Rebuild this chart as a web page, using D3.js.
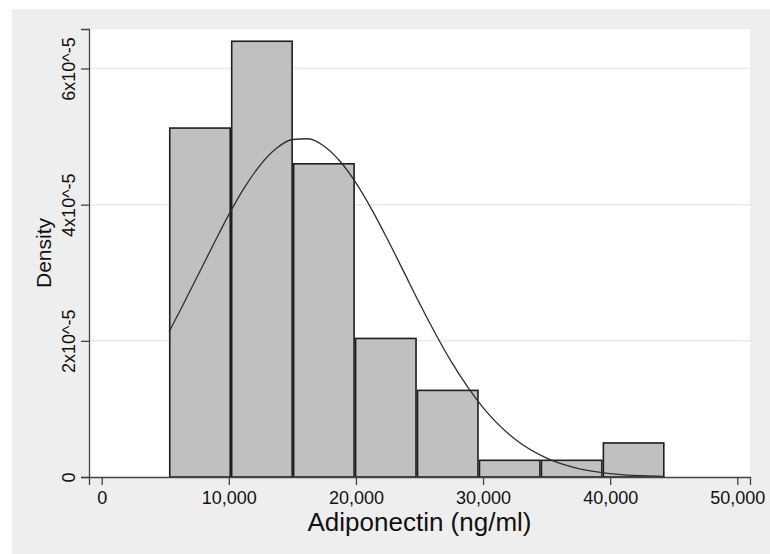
<!DOCTYPE html>
<html>
<head>
<meta charset="utf-8">
<script src="https://cdn.jsdelivr.net/npm/d3@7"></script>
<style>
  body { margin: 0; background: #fff; }
  svg { display: block; font-family: "Liberation Sans", Arial, sans-serif; }
</style>
</head>
<body>
<div id="chart"></div>
<script>
// histogram bins (ng/ml) and densities
const binEdges = [5294, 10167, 15040, 19913, 24786, 29659, 34532, 39405, 44278];
const densities = [5.125e-5, 6.40e-5, 4.60e-5, 2.035e-5, 1.272e-5, 0.245e-5, 0.245e-5, 0.50e-5];

// overlaid normal curve
const curveX = [5294, 6250, 7500, 8750, 10000, 11250, 12500, 13750, 15000, 16250, 17500, 18750,
                20000, 21250, 22500, 23750, 25000, 27500, 30000, 32500, 35000, 37500, 40000, 42500, 44278];
const curveY = [2.131e-5, 2.475e-5, 2.937e-5, 3.400e-5, 3.854e-5, 4.257e-5, 4.589e-5, 4.828e-5, 4.957e-5,
                4.968e-5, 4.859e-5, 4.637e-5, 4.320e-5, 3.928e-5, 3.485e-5, 3.020e-5, 2.551e-5, 1.694e-5,
                1.020e-5, 0.558e-5, 0.277e-5, 0.1245e-5, 0.0508e-5, 0.0188e-5, 0.0088e-5];

const xTicks = [0, 10000, 20000, 30000, 40000, 50000];
const yTicks = [0, 2e-5, 4e-5, 6e-5];
const yTickLabels = ["0", "2x10^-5", "4x10^-5", "6x10^-5"];

const width = 770, height = 554;
const plot = { left: 89, right: 750, top: 29, bottom: 477 };

const svg = d3.select("#chart").append("svg")
    .attr("width", width)
    .attr("height", height);

// graph region
svg.append("rect")
    .attr("x", 12).attr("y", 9)
    .attr("width", width - 12).attr("height", height - 9)
    .attr("fill", "#eeeeee");

svg.append("rect")
    .attr("x", plot.left).attr("y", plot.top)
    .attr("width", plot.right - plot.left).attr("height", plot.bottom - plot.top)
    .attr("fill", "#ffffff");

const x = d3.scaleLinear().domain([-1000, 51000]).range([plot.left, plot.right]);
const y = d3.scaleLinear().domain([0, 6.58e-5]).range([plot.bottom, plot.top]);

// grid lines
svg.append("g")
    .selectAll("line")
    .data(yTicks.filter(d => d > 0))
    .join("line")
    .attr("x1", plot.left).attr("x2", plot.right)
    .attr("y1", d => y(d)).attr("y2", d => y(d))
    .attr("stroke", "#e3eef0")
    .attr("stroke-width", 1.5);

// bars
const bins = densities.map((d, i) => ({ x0: binEdges[i], x1: binEdges[i + 1], d: d }));
svg.append("g")
    .selectAll("rect")
    .data(bins)
    .join("rect")
    .attr("x", d => x(d.x0) + 0.75)
    .attr("y", d => y(d.d))
    .attr("width", d => x(d.x1) - x(d.x0) - 1.5)
    .attr("height", d => y(0) - y(d.d))
    .attr("fill", "#c0c0c0")
    .attr("stroke", "#1e1e1e")
    .attr("stroke-width", 1.6);

// normal curve
const line = d3.line()
    .x((d, i) => x(curveX[i]))
    .y(d => y(d))
    .curve(d3.curveMonotoneX);

svg.append("path")
    .datum(curveY)
    .attr("d", line)
    .attr("fill", "none")
    .attr("stroke", "#2e2e2e")
    .attr("stroke-width", 1.3);

// axes
const xAxis = d3.axisBottom(x)
    .tickValues(xTicks)
    .tickFormat(d3.format(","))
    .tickSizeOuter(0)
    .tickSize(8)
    .tickPadding(6);

const gx = svg.append("g")
    .attr("transform", `translate(0,${plot.bottom})`)
    .call(xAxis);
gx.select(".domain").attr("stroke", "#444").attr("stroke-width", 1.3);
gx.selectAll(".tick line").attr("stroke", "#444").attr("stroke-width", 1.3);
gx.selectAll(".tick text")
    .attr("fill", "#111")
    .style("font-size", "18px");

const yAxis = d3.axisLeft(y)
    .tickValues(yTicks)
    .tickFormat((d, i) => yTickLabels[i])
    .tickSizeOuter(0)
    .tickSize(8);

const gy = svg.append("g")
    .attr("transform", `translate(${plot.left},0)`)
    .call(yAxis);
gy.select(".domain").attr("stroke", "#444").attr("stroke-width", 1.3);
gy.selectAll(".tick line").attr("stroke", "#444").attr("stroke-width", 1.3);
gy.selectAll(".tick text")
    .attr("x", null).attr("dy", null)
    .attr("transform", "translate(-14,0) rotate(-90)")
    .attr("text-anchor", "middle")
    .attr("fill", "#111")
    .style("font-size", "18px");

// titles
svg.append("text")
    .attr("x", (plot.left + plot.right) / 2)
    .attr("y", 531)
    .attr("text-anchor", "middle")
    .attr("fill", "#111")
    .style("font-size", "26px")
    .text("Adiponectin (ng/ml)");

svg.append("text")
    .attr("transform", `translate(51,${(plot.top + plot.bottom) / 2}) rotate(-90)`)
    .attr("text-anchor", "middle")
    .attr("fill", "#111")
    .style("font-size", "21px")
    .text("Density");
</script>
</body>
</html>
